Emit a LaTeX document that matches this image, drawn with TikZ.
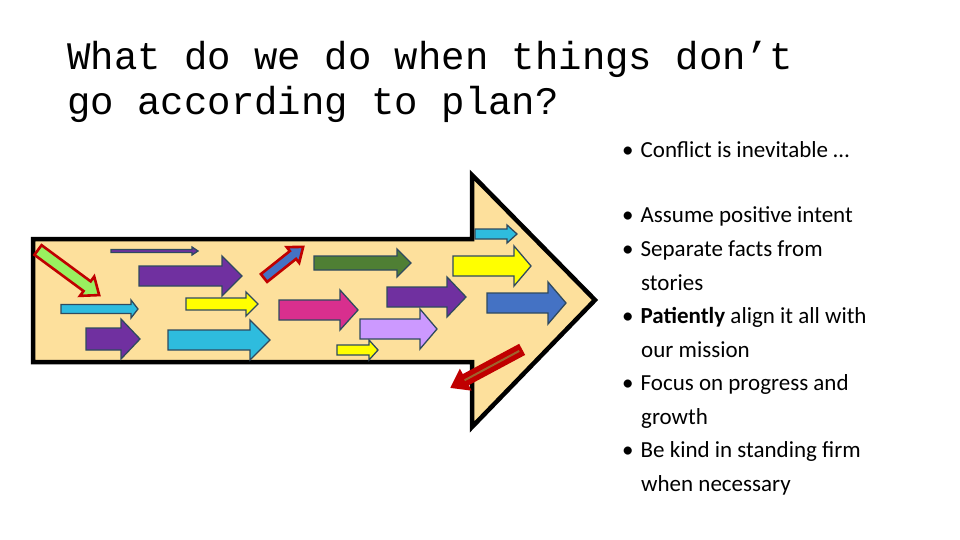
\documentclass[tikz,border=0pt]{standalone}
\usepackage{fontspec}
\setmainfont{Carlito}
\newfontfamily\monof{Liberation Mono}
\definecolor{bg}{HTML}{FDE09C}
\definecolor{ol}{HTML}{2F4A5F}
\definecolor{pur}{HTML}{7030A0}
\definecolor{cya}{HTML}{2EBCDE}
\definecolor{yel}{HTML}{FFFF00}
\definecolor{grn}{HTML}{4F7F34}
\definecolor{mag}{HTML}{D82F8E}
\definecolor{lil}{HTML}{CC99FF}
\definecolor{blu}{HTML}{4472C4}
\definecolor{lgr}{HTML}{99F060}
\definecolor{dred}{HTML}{C00000}
\definecolor{brn}{HTML}{A0622D}
\tikzset{sarrow/.style={draw=ol,line width=1.3pt,line join=miter},
 redarrow/.style={draw=dred,line width=2.6pt,line join=miter},
 bul/.style={anchor=west,inner sep=0pt,font=\fontsize{23}{28}\selectfont},
 ttl/.style={anchor=west,inner sep=0pt,font=\monof\fontsize{39}{44}\selectfont}}
% \harr{x1}{x2}{yc}{sh}{hh}{hl}{color}
\newcommand\harr[7]{\fill[sarrow,fill=#7] (#1,-#3+#4) -- (#2-#6,-#3+#4) -- (#2-#6,-#3+#5) -- (#2,-#3) -- (#2-#6,-#3-#5) -- (#2-#6,-#3-#4) -- (#1,-#3-#4) -- cycle;}
% \darr{x}{y}{angle}{L}{sh}{hh}{hl}{fill}
\newcommand\darr[8]{\begin{scope}[shift={(#1,-#2)},rotate=#3]
\fill[redarrow,fill=#8] (0,#5) -- (#4-#7,#5) -- (#4-#7,#6) -- (#4,0) -- (#4-#7,-#6) -- (#4-#7,-#5) -- (0,-#5) -- cycle;
\end{scope}}
\begin{document}
\begin{tikzpicture}[x=1pt,y=1pt]
\path[use as bounding box,fill=white] (0,0) rectangle (960,-540);
\node[ttl] (t1) at (67,-59) {What do we do when things don’t};
\node[ttl] (t2) at (67,-104) {go according to plan?};
% big arrow
\draw[line width=4.5pt,fill=bg,line join=miter] (33,-239) -- (472,-239) -- (472,-175) -- (595,-300) -- (472,-427) -- (472,-362) -- (33,-362) -- cycle;
\darr{38}{250}{-36.4}{76}{6}{12}{15}{lgr}
\harr{111}{198}{251}{1.5}{4}{6}{pur}
\harr{139}{242}{276}{10}{20}{20}{pur}
\harr{61}{138}{309}{4.5}{9}{7}{cya}
\harr{86}{140}{339}{11}{20}{19}{pur}
\harr{186}{258}{304}{6}{12}{12}{yel}
\harr{168}{270}{340}{10}{20}{20}{cya}
\darr{264}{278}{38.5}{50}{5}{10}{13}{blu}
\harr{314}{411}{263}{7}{14}{14}{grn}
\harr{279}{358}{310}{10}{20}{18}{mag}
\harr{337}{378}{350}{5}{10}{9}{yel}
\harr{360}{437}{329}{10}{20}{17}{lil}
\harr{387}{466}{297}{10}{20}{19}{pur}
\harr{475}{517}{234}{5}{9}{10}{cya}
\harr{453}{531}{266}{10}{20}{17}{yel}
\harr{487}{566}{303}{10}{21}{18}{blu}
\darr{521}{350}{208.2}{78}{5}{10}{14}{dred}
\begin{scope}[shift={(521,-350)},rotate=208.2]
\draw[brn,line width=2pt] (2,0) -- (64,0);
\end{scope}
% bullets
\node[bul] (b1) at (622,-150) {•\hspace{7pt}Conflict is inevitable …};
\node[bul] (b2) at (622,-216) {•\hspace{7pt}Assume positive intent};
\node[bul] (b3) at (622,-250) {•\hspace{7pt}Separate facts from};
\node[bul] (b3b) at (641,-283) {stories};
\node[bul] (b4) at (622,-317) {•\hspace{7pt}\textbf{Patiently} align it all with};
\node[bul] (b4b) at (641,-350) {our mission};
\node[bul] (b5) at (622,-384) {•\hspace{7pt}Focus on progress and};
\node[bul] (b5b) at (641,-418) {growth};
\node[bul] (b6) at (622,-451) {•\hspace{7pt}Be kind in standing firm};
\node[bul] (b6b) at (641,-485) {when necessary};
\end{tikzpicture}
\end{document}
